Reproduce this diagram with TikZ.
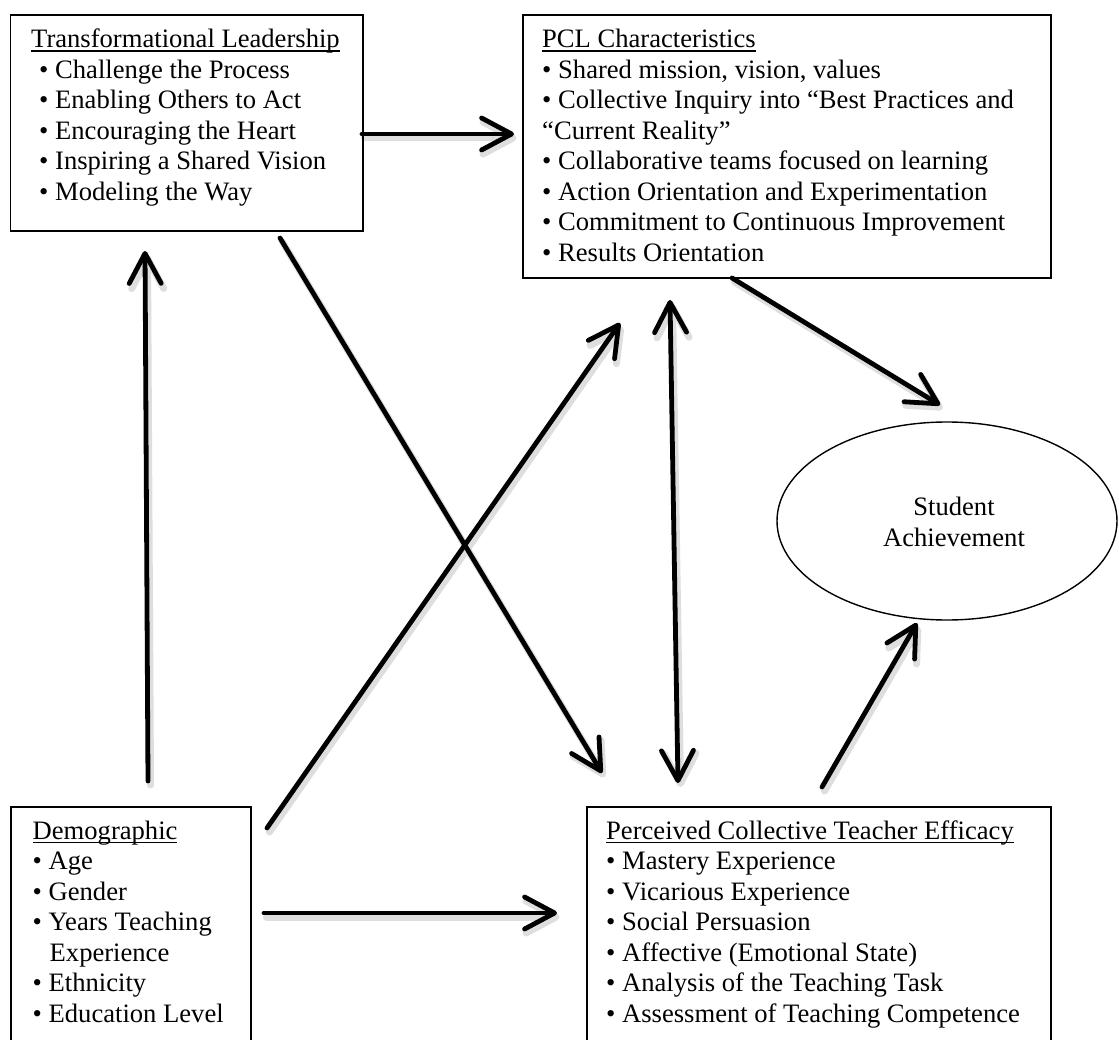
\documentclass[tikz,border=0pt]{standalone}
\usepackage{fontspec}
\setmainfont{Liberation Serif}
\usetikzlibrary{arrows.meta,shapes.geometric}
\newcommand\hdul[1]{\setbox0\hbox{#1}\rlap{\rule[-4pt]{\wd0}{1.5pt}}\box0}
\begin{document}
\begin{tikzpicture}[x=1pt,y=-1pt,
  box/.style={draw, line width=1.8pt, rectangle, inner sep=0pt, anchor=north west},
  txt/.style={anchor=base west, inner sep=0pt, align=left, font=\fontsize{26.6pt}{30.5pt}\selectfont},
  ctxt/.style={inner sep=0pt, align=center, font=\fontsize{26.6pt}{30.5pt}\selectfont},
  tipb/.tip={Straight Barb[length=30pt,width=32pt,round]},
  arr/.style={line width=4.8pt, line cap=round, -tipb},
  darr/.style={line width=4.8pt, line cap=round, tipb-tipb},
  shd/.style={draw=black!13, line width=7pt, transform canvas={shift={(2.5pt,-4pt)}}}
]
\useasboundingbox (0,0) rectangle (1119,1040);
\begin{scope}
\clip (0,0) rectangle (1119,1040);
\fill[white] (0,0) rectangle (1119,1040);

% connector end points
\coordinate (tlR) at (362,134);   \coordinate (pclL) at (514,134);
\coordinate (demT) at (148,781);  \coordinate (tlB) at (145,251);
\coordinate (tlD) at (280,238);   \coordinate (pcteT1) at (602,773);
\coordinate (demU) at (267,828);  \coordinate (pclB1) at (620,323);
\coordinate (pclB2) at (670,300); \coordinate (pcteT2) at (678,783);
\coordinate (pclB3) at (732,278); \coordinate (saT) at (940,405);
\coordinate (pcteT3) at (822,787);\coordinate (saB) at (917,623);
\coordinate (demR) at (264,913);  \coordinate (pcteL) at (557,913);

% soft shadows of connectors
\draw[arr,shd] (tlR) -- (pclL);
\draw[arr,shd] (demT) -- (tlB);
\draw[arr,shd] (tlD) -- (pcteT1);
\draw[arr,shd] (demU) -- (pclB1);
\draw[darr,shd] (pclB2) -- (pcteT2);
\draw[arr,shd] (pclB3) -- (saT);
\draw[arr,shd] (pcteT3) -- (saB);
\draw[arr,shd] (demR) -- (pcteL);

% boxes
\node[box, minimum width=352.4pt, minimum height=216pt] (tl) at (9.6,14) {};
\node[box, minimum width=528pt, minimum height=263pt] (pcl) at (522,14) {};
\node[box, minimum width=240pt, minimum height=260pt] (dem) at (10,806) {};
\node[box, minimum width=464pt, minimum height=260pt] (pcte) at (586,806) {};
\node[draw, ellipse, line width=1.4pt, minimum width=340pt, minimum height=198pt] (sa) at (947,521) {};

% texts (base anchor = baseline of last line)
\node[txt] (tltext) at (31,200.5) {\hdul{Transformational Leadership}\\
\hspace{8pt}• Challenge the Process\\
\hspace{8pt}• Enabling Others to Act\\
\hspace{8pt}• Encouraging the Heart\\
\hspace{8pt}• Inspiring a Shared Vision\\
\hspace{8pt}• Modeling the Way};

\node[txt] (pcltext) at (542,261.5) {\hdul{PCL Characteristics}\\
• Shared mission, vision, values\\
• Collective Inquiry into “Best Practices and\\
“Current Reality”\\
• Collaborative teams focused on learning\\
• Action Orientation and Experimentation\\
• Commitment to Continuous Improvement\\
• Results Orientation};

\node[txt] (demtext) at (32.5,1022) {\hdul{Demographic}\\
• Age\\
• Gender\\
• Years Teaching\\
\hspace{17pt}Experience\\
• Ethnicity\\
• Education Level};

\node[txt] (pctetext) at (606,1022) {\hdul{Perceived Collective Teacher Efficacy}\\
• Mastery Experience\\
• Vicarious Experience\\
• Social Persuasion\\
• Affective (Emotional State)\\
• Analysis of the Teaching Task\\
• Assessment of Teaching Competence};

\node[ctxt] (satext) at (954,522) {Student\\Achievement};

% connectors
\draw[arr] (tlR) -- (pclL);
\draw[arr] (demT) -- (tlB);
\draw[arr] (tlD) -- (pcteT1);
\draw[arr] (demU) -- (pclB1);
\draw[darr] (pclB2) -- (pcteT2);
\draw[arr] (pclB3) -- (saT);
\draw[arr] (pcteT3) -- (saB);
\draw[arr] (demR) -- (pcteL);
\end{scope}
\end{tikzpicture}
\end{document}
